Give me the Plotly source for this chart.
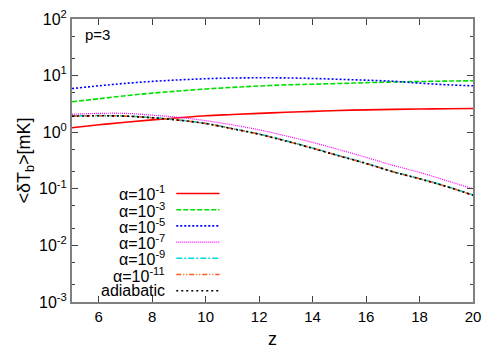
import plotly.graph_objects as go

# redshift samples
z = [5, 6, 7, 8, 9, 10, 11, 12, 13, 14, 15, 16, 17, 18, 19, 20]

# <dT_b> in mK
alpha_1e1 = [1.2, 1.35, 1.5, 1.65, 1.8, 1.95, 2.05, 2.15, 2.25, 2.33, 2.42, 2.48, 2.53, 2.57, 2.6, 2.63]
alpha_1e3 = [3.45, 3.9, 4.4, 4.9, 5.35, 5.8, 6.2, 6.55, 6.85, 7.05, 7.25, 7.5, 7.7, 7.85, 8.0, 8.1]
alpha_1e5 = [5.9, 6.6, 7.3, 7.9, 8.4, 8.8, 9.05, 9.15, 9.1, 8.9, 8.6, 8.3, 7.95, 7.35, 6.9, 6.6]
alpha_1e7 = [2.08, 2.15, 2.15, 2.0, 1.83, 1.6, 1.35, 1.1, 0.86, 0.66, 0.49, 0.36, 0.26, 0.195, 0.14, 0.1]
alpha_1e9 = [1.93, 1.96, 1.93, 1.81, 1.64, 1.43, 1.16, 0.93, 0.71, 0.525, 0.385, 0.283, 0.202, 0.152, 0.111, 0.078]
alpha_1e11 = [1.92, 1.95, 1.92, 1.8, 1.63, 1.42, 1.15, 0.92, 0.7, 0.52, 0.38, 0.28, 0.2, 0.15, 0.11, 0.077]
adiabatic = [1.92, 1.95, 1.92, 1.8, 1.63, 1.42, 1.15, 0.92, 0.7, 0.52, 0.38, 0.28, 0.2, 0.15, 0.11, 0.077]

labels = ["α=10<sup>-1</sup>", "α=10<sup>-3</sup>", "α=10<sup>-5</sup>", "α=10<sup>-7</sup>",
          "α=10<sup>-9</sup>", "α=10<sup>-11</sup>", "adiabatic"]
series = [alpha_1e1, alpha_1e3, alpha_1e5, alpha_1e7, alpha_1e9, alpha_1e11, adiabatic]
colors = ["#ff0000", "#00e000", "#0000ff", "#ff00ff", "#00d8d8", "#ff5a1a", "#000000"]
dashes = ["solid", "5px,2px", "2px,2px", "1px,1px", "6px,2px,2px,2px",
          "5px,2px,1px,2px,1px,2px", "2px,3px"]
widths = [1.6, 1.6, 1.6, 1.2, 1.6, 1.6, 1.6]

y_tickvals = [1e-3, 1e-2, 1e-1, 1, 10, 100]
y_ticktext = ["10<sup>-3</sup>", "10<sup>-2</sup>", "10<sup>-1</sup>",
              "10<sup>0</sup>", "10<sup>1</sup>", "10<sup>2</sup>"]

FONT = "Liberation Sans, Arial, sans-serif"

fig = go.Figure()
for lab, ys, c, d, w in zip(labels, series, colors, dashes, widths):
    fig.add_trace(go.Scatter(x=z, y=ys, mode="lines", name=lab, line_shape="spline",
                             line=dict(color=c, width=w, dash=d)))

# gnuplot-style key: right-aligned text, sample line to the right
row_h = 16.2 / 283
for i, (lab, c, d, w) in enumerate(zip(labels, colors, dashes, widths)):
    yp = (302 - 193.5) / 283 - i * row_h
    fig.add_annotation(xref="paper", yref="paper", x=0.236, y=yp, text=lab,
                       showarrow=False, xanchor="right", yanchor="middle",
                       font=dict(size=16, color="black", family=FONT))
    fig.add_shape(type="line", xref="paper", yref="paper",
                  x0=0.26, x1=0.368, y0=yp, y1=yp,
                  line=dict(color=c, width=w, dash=d))

fig.add_annotation(xref="paper", yref="paper", x=0.028, y=0.945, text="p=3",
                   showarrow=False, xanchor="left", yanchor="middle",
                   font=dict(size=15, color="black", family=FONT))

axis_style = dict(showline=True, linecolor="#808080", linewidth=2, mirror="ticks",
                  ticks="inside", ticklen=6, tickcolor="#404040", showgrid=False,
                  zeroline=False, automargin=False)

fig.update_xaxes(range=[5, 20], dtick=2, tick0=0, title=dict(text="z", standoff=8),
                 tickfont=dict(size=15, color="black", family=FONT), **axis_style)
fig.update_yaxes(type="log", range=[-3, 2], tickvals=y_tickvals, ticktext=y_ticktext,
                 title=dict(text="&lt;δT<sub>b</sub>&gt;[mK]", standoff=4),
                 tickfont=dict(size=16, color="black", family=FONT),
                 minor=dict(dtick="D2", ticks="inside", ticklen=3, tickcolor="#404040"),
                 **axis_style)

fig.update_layout(width=500, height=350, margin=dict(l=72, r=27, t=19, b=48),
                  plot_bgcolor="white", paper_bgcolor="white", showlegend=False,
                  font=dict(family=FONT, size=15, color="black"))

# drop the page's default body margin so the figure sits at the window's corner
fig.write_html("out.html", config={"displayModeBar": False},
               post_script="document.body.style.margin='0px';")
